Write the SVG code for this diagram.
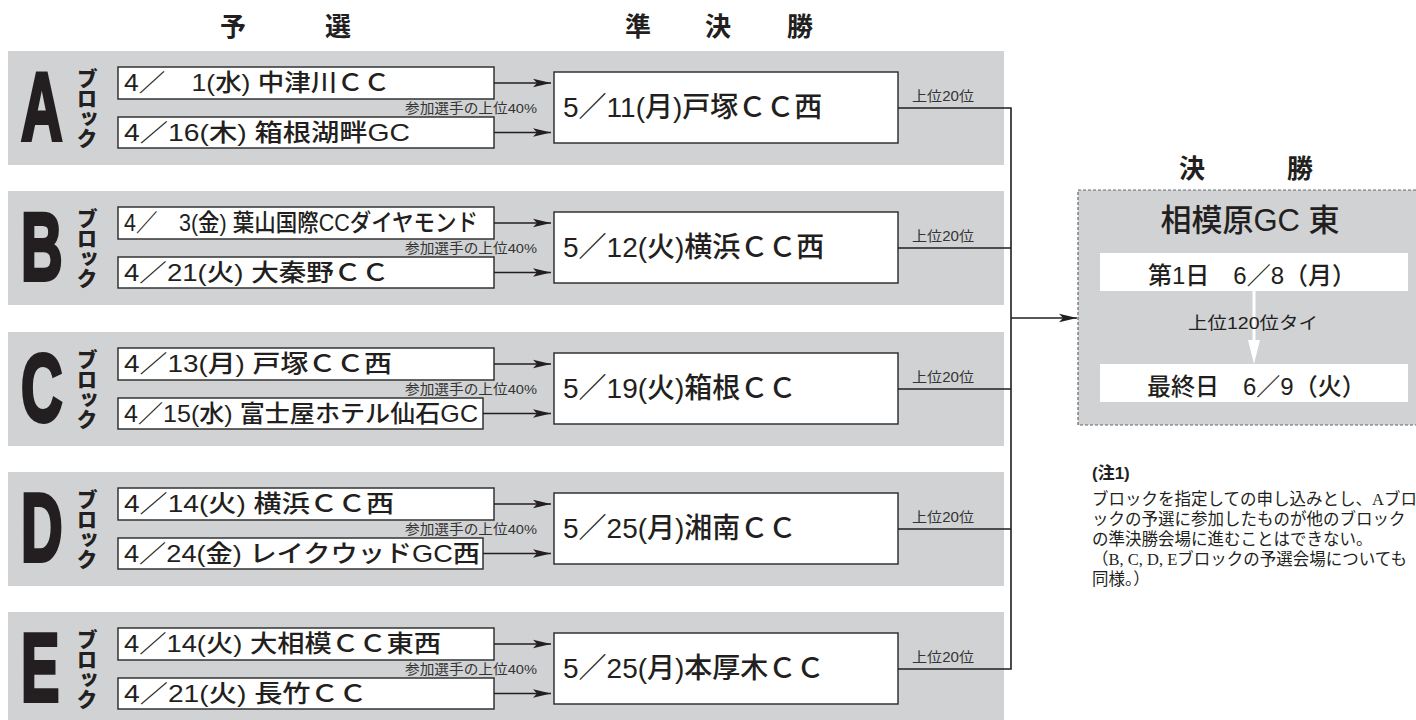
<svg xmlns="http://www.w3.org/2000/svg" width="1416" height="720" viewBox="0 0 1416 720">
<defs>
<marker id="ah" markerUnits="userSpaceOnUse" markerWidth="20" markerHeight="10" refX="18" refY="5" orient="auto">
<path d="M0,0.8 L18,5 L0,9.2 L4,5 z" fill="#231f20"/>
</marker>
<style>
.band{fill:#d1d2d4}
.box{fill:#fff;stroke:#333;stroke-width:1.5}
.ln{fill:none;stroke:#231f20;stroke-width:1.6}
.arr{fill:none;stroke:#231f20;stroke-width:1.6;marker-end:url(#ah)}
.s{font-family:"Liberation Sans","Noto Sans CJK JP",sans-serif;fill:#231f20}
.big{font-family:"Liberation Sans","Noto Sans CJK JP",sans-serif;font-weight:700;font-size:96px;fill:#231f20;stroke:#231f20;stroke-width:4;stroke-linejoin:miter}
.kata{font-family:"Noto Sans CJK JP",sans-serif;font-weight:900;font-size:21px;fill:#231f20;writing-mode:vertical-rl;letter-spacing:-1px}
.pre{font-size:24px;font-weight:500}
.semi{font-size:28px;font-weight:500}
.small{font-size:13.5px;fill:#333}
.lab{font-size:14px;fill:#333}
.ttl{font-family:"Noto Sans CJK JP",sans-serif;font-weight:700;font-size:26px;fill:#231f20;text-anchor:middle}
.note{font-family:"Liberation Serif","Noto Sans CJK JP",serif;font-size:16.5px;fill:#231f20}
</style>
</defs>
<rect width="1416" height="720" fill="#fff"/>

<g id="titles">
<text class="ttl" x="233" y="36">予</text>
<text class="ttl" x="338" y="36">選</text>
<text class="ttl" x="638" y="36">準</text>
<text class="ttl" x="718" y="36">決</text>
<text class="ttl" x="800" y="36">勝</text>
</g>

<g id="blockA">
<rect class="band" x="8" y="51" width="996" height="114"/>
<text class="big" transform="translate(21,140) scale(0.6,1)">A</text>
<text class="kata" x="87" y="68">ブロック</text>
<rect class="box" x="118" y="67" width="376" height="32"/>
<text class="s pre" x="124" y="91" textLength="266" lengthAdjust="spacingAndGlyphs">4／　1(水) 中津川ＣＣ</text>
<rect class="box" x="118" y="117" width="376" height="31"/>
<text class="s pre" x="124" y="141" textLength="286" lengthAdjust="spacingAndGlyphs">4／16(木) 箱根湖畔GC</text>
<text class="s small" x="537" y="113" text-anchor="end" textLength="132" lengthAdjust="spacingAndGlyphs">参加選手の上位40%</text>
<rect class="box" x="554" y="72" width="344" height="71"/>
<text class="s semi" x="563" y="117">5／11(月)戸塚ＣＣ西</text>
<text class="s lab" x="912" y="101" textLength="62" lengthAdjust="spacingAndGlyphs">上位20位</text>
</g>

<g id="blockB">
<rect class="band" x="8" y="191" width="996" height="114"/>
<text class="big" transform="translate(21,280) scale(0.6,1)">B</text>
<text class="kata" x="87" y="208">ブロック</text>
<rect class="box" x="118" y="207" width="376" height="32"/>
<text class="s pre" x="124" y="231" textLength="354" lengthAdjust="spacingAndGlyphs">4／　3(金) 葉山国際CCダイヤモンド</text>
<rect class="box" x="118" y="257" width="376" height="31"/>
<text class="s pre" x="124" y="281" textLength="265" lengthAdjust="spacingAndGlyphs">4／21(火) 大秦野ＣＣ</text>
<text class="s small" x="537" y="253" text-anchor="end" textLength="132" lengthAdjust="spacingAndGlyphs">参加選手の上位40%</text>
<rect class="box" x="554" y="212" width="344" height="71"/>
<text class="s semi" x="563" y="257">5／12(火)横浜ＣＣ西</text>
<text class="s lab" x="912" y="241" textLength="62" lengthAdjust="spacingAndGlyphs">上位20位</text>
</g>

<g id="blockC">
<rect class="band" x="8" y="332" width="996" height="114"/>
<text class="big" transform="translate(21,421) scale(0.6,1)">C</text>
<text class="kata" x="87" y="349">ブロック</text>
<rect class="box" x="118" y="348" width="376" height="32"/>
<text class="s pre" x="124" y="372" textLength="268" lengthAdjust="spacingAndGlyphs">4／13(月) 戸塚ＣＣ西</text>
<rect class="box" x="118" y="398" width="365" height="31"/>
<text class="s pre" x="124" y="422" textLength="354" lengthAdjust="spacingAndGlyphs">4／15(水) 富士屋ホテル仙石GC</text>
<text class="s small" x="537" y="394" text-anchor="end" textLength="132" lengthAdjust="spacingAndGlyphs">参加選手の上位40%</text>
<rect class="box" x="554" y="353" width="344" height="71"/>
<text class="s semi" x="563" y="398">5／19(火)箱根ＣＣ</text>
<text class="s lab" x="912" y="382" textLength="62" lengthAdjust="spacingAndGlyphs">上位20位</text>
</g>

<g id="blockD">
<rect class="band" x="8" y="472" width="996" height="114"/>
<text class="big" transform="translate(21,561) scale(0.6,1)">D</text>
<text class="kata" x="87" y="489">ブロック</text>
<rect class="box" x="118" y="488" width="376" height="32"/>
<text class="s pre" x="124" y="512" textLength="270" lengthAdjust="spacingAndGlyphs">4／14(火) 横浜ＣＣ西</text>
<rect class="box" x="118" y="538" width="365" height="31"/>
<text class="s pre" x="124" y="562" textLength="356" lengthAdjust="spacingAndGlyphs">4／24(金) レイクウッドGC西</text>
<text class="s small" x="537" y="534" text-anchor="end" textLength="132" lengthAdjust="spacingAndGlyphs">参加選手の上位40%</text>
<rect class="box" x="554" y="493" width="344" height="71"/>
<text class="s semi" x="563" y="538">5／25(月)湘南ＣＣ</text>
<text class="s lab" x="912" y="522" textLength="62" lengthAdjust="spacingAndGlyphs">上位20位</text>
</g>

<g id="blockE">
<rect class="band" x="8" y="612" width="996" height="114"/>
<text class="big" transform="translate(21,701) scale(0.6,1)">E</text>
<text class="kata" x="87" y="629">ブロック</text>
<rect class="box" x="118" y="628" width="376" height="32"/>
<text class="s pre" x="124" y="652" textLength="317" lengthAdjust="spacingAndGlyphs">4／14(火) 大相模ＣＣ東西</text>
<rect class="box" x="118" y="678" width="376" height="31"/>
<text class="s pre" x="124" y="702" textLength="243" lengthAdjust="spacingAndGlyphs">4／21(火) 長竹ＣＣ</text>
<text class="s small" x="537" y="674" text-anchor="end" textLength="132" lengthAdjust="spacingAndGlyphs">参加選手の上位40%</text>
<rect class="box" x="554" y="633" width="344" height="71"/>
<text class="s semi" x="563" y="678">5／25(月)本厚木ＣＣ</text>
<text class="s lab" x="912" y="662" textLength="62" lengthAdjust="spacingAndGlyphs">上位20位</text>
</g>

<g id="connectors">
<path class="arr" d="M494,83 H551"/>
<path class="arr" d="M494,132.5 H551"/>
<path class="arr" d="M494,223 H551"/>
<path class="arr" d="M494,272.5 H551"/>
<path class="arr" d="M494,364 H551"/>
<path class="arr" d="M483,413.5 H551"/>
<path class="arr" d="M494,504 H551"/>
<path class="arr" d="M483,553.5 H551"/>
<path class="arr" d="M494,644 H551"/>
<path class="arr" d="M494,693.5 H551"/>
<path class="ln" d="M898,108 H1011 M898,248 H1011 M898,389 H1011 M898,529 H1011 M898,669 H1011 M1011,107.2 V669.8"/>
<path class="arr" d="M1011,318 H1077"/>
</g>

<g id="final">
<text class="ttl" x="1192" y="178">決</text>
<text class="ttl" x="1300" y="178">勝</text>
<rect x="1078" y="190" width="345" height="235" fill="#d1d2d4" stroke="#666" stroke-width="1.2" stroke-dasharray="3,2"/>
<text class="s" x="1250" y="231" font-size="31" font-weight="500" text-anchor="middle">相模原GC 東</text>
<rect x="1100" y="253" width="308" height="38" fill="#fff"/>
<text class="s" x="1148" y="284" font-size="24" font-weight="500">第1日　6／8（月）</text>
<path d="M1254,291 V344" stroke="#fff" stroke-width="3" fill="none"/>
<path d="M1248,340 L1260,340 L1254,364 z" fill="#fff"/>
<text class="s" x="1253" y="329" font-size="17" text-anchor="middle" textLength="130" lengthAdjust="spacingAndGlyphs">上位120位タイ</text>
<rect x="1100" y="364" width="308" height="38" fill="#fff"/>
<text class="s" x="1147" y="395" font-size="24" font-weight="500">最終日　6／9（火）</text>
</g>

<g id="notes">
<text class="s" x="1092" y="479" font-size="17" font-weight="700">(注1)</text>
<text class="note" x="1092" y="505">ブロックを指定しての申し込みとし、Aブロ</text>
<text class="note" x="1092" y="525">ックの予選に参加したものが他のブロック</text>
<text class="note" x="1092" y="545">の準決勝会場に進むことはできない。</text>
<text class="note" x="1092" y="565">（B, C, D, Eブロックの予選会場についても</text>
<text class="note" x="1092" y="585">同様。）</text>
</g>
</svg>
